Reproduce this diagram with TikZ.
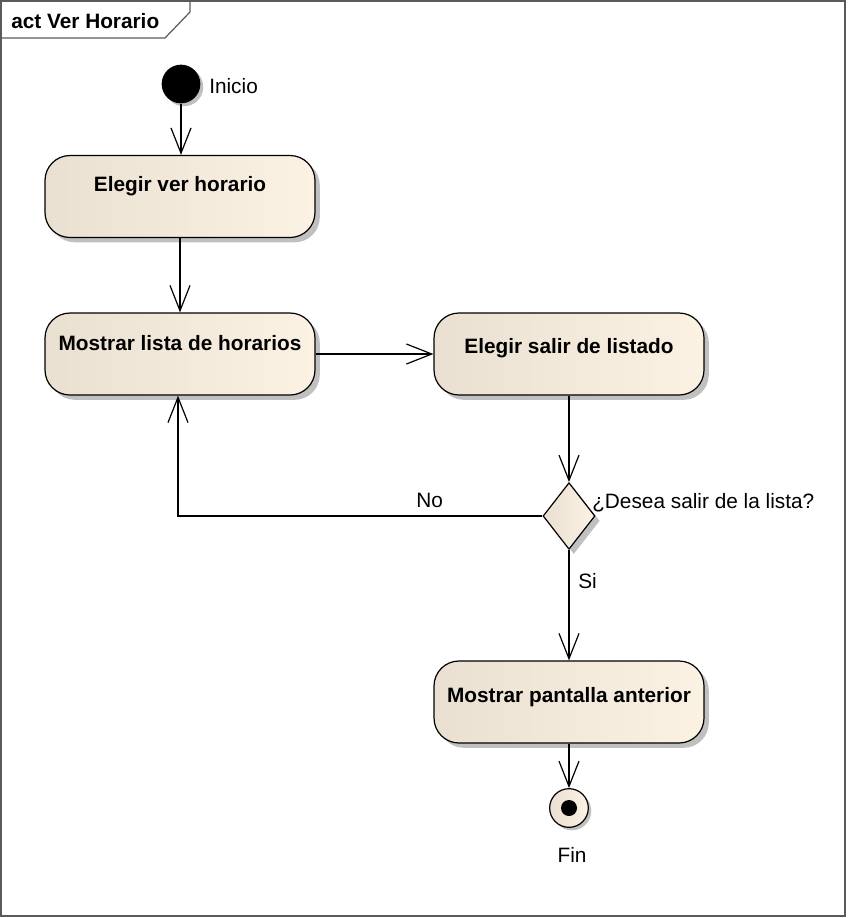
\documentclass[tikz,border=0pt]{standalone}
\usepackage{fontspec}
\setmainfont{Liberation Sans}
\usetikzlibrary{arrows.meta,shapes.geometric,shadows}
\definecolor{boxL}{RGB}{233,224,210}
\definecolor{boxR}{RGB}{251,242,228}
\definecolor{shadowcol}{RGB}{192,192,192}
\definecolor{framecol}{RGB}{90,90,90}
\newcommand{\dfont}{\fontsize{15.6pt}{18pt}\selectfont}
\begin{document}
\begin{tikzpicture}[x=0.75pt,y=-0.75pt,
  every node/.style={font=\dfont},
  shad/.style={general shadow={fill=shadowcol,shadow xshift=3.6pt,shadow yshift=-3.6pt}},
  actbox/.style={shad,draw=black,line width=0.9pt,rounded corners=18.75pt,
    left color=boxL,right color=boxR,minimum width=202.5pt,minimum height=61.5pt,
    inner sep=0pt,text height=0pt,text depth=0pt,font=\bfseries\dfont},
  decbox/.style={shad,diamond,draw=black,line width=0.9pt,left color=boxL,right color=boxR,
    minimum width=39pt,minimum height=50pt,inner sep=0pt},
  startnode/.style={general shadow={fill=shadowcol,shadow xshift=2.2pt,shadow yshift=-2.2pt},
    circle,fill=black,minimum size=29pt,inner sep=0pt},
  endnode/.style={general shadow={fill=shadowcol,shadow xshift=2.2pt,shadow yshift=-2.2pt},
    circle,draw=black,line width=0.9pt,left color=boxL,right color=boxR,
    minimum size=29pt,inner sep=0pt,
    path picture={\fill[black] (path picture bounding box.center) circle (6pt);}},
  flow/.style={draw=black,line width=0.9pt,-{Straight Barb[length=19pt,width=15pt,line width=0.9pt]}},
  lbl/.style={inner sep=0pt}
]
\useasboundingbox (0,0) rectangle (847,918);
% frame
\draw[framecol,line width=0.9pt] (1,1) rectangle (845,916);
\draw[framecol,line width=0.9pt] (1,38) -- (165,38) -- (190,12) -- (190,1);
\node[lbl,anchor=west,font=\bfseries\dfont] (title) at (11,21) {act Ver Horario};

% nodes
\node[startnode] (ini) at (181,84) {};
\node[lbl,anchor=west] (inilbl) at (209,86) {Inicio};
\node[actbox] (b1) at (180,196.5) {\raisebox{3.4pt}{Elegir ver horario}};
\node[actbox] (b2) at (180,354) {\raisebox{3pt}{Mostrar lista de horarios}};
\node[actbox] (b3) at (569,354) {\raisebox{0.4pt}{Elegir salir de listado}};
\node[decbox] (dec) at (569,516) {};
\node[lbl,anchor=west] (declbl) at (592,503) {¿Desea salir de la lista?};
\node[actbox] (b4) at (569,702) {\raisebox{0pt}{Mostrar pantalla anterior}};
\node[endnode] (fin) at (569,808) {};
\node[lbl] (finlbl) at (572,855) {Fin};
\node[lbl,anchor=west] (no) at (416,500) {No};
\node[lbl,anchor=west] (si) at (578,581) {Si};

% connectors
\draw[flow] (ini.south) -- (ini.south |- b1.north);
\draw[flow] (b1.south) -- (b2.north);
\draw[flow] (b2.east) -- (b3.west);
\draw[flow] (b3.south) -- (dec.north);
\draw[flow] (dec.west) -| ([xshift=-1.5pt]b2.south);
\draw[flow] (dec.south) -- (b4.north);
\draw[flow] (b4.south) -- (fin.north);
\end{tikzpicture}
\end{document}
